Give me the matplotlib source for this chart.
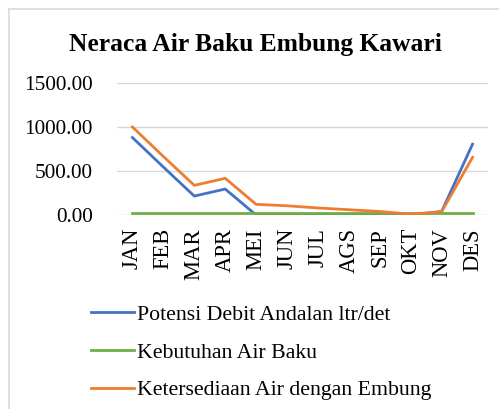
import matplotlib.pyplot as plt
import numpy as np

months = ['JAN', 'FEB', 'MAR', 'APR', 'MEI', 'JUN', 'JUL', 'AGS', 'SEP', 'OKT', 'NOV', 'DES']
potensi = [880, 545, 215, 295, 0, 0, 0, 0, 0, 0, 40, 805]
kebutuhan = [20, 20, 20, 20, 20, 20, 20, 20, 20, 20, 20, 20]
ketersediaan = [1000, 665, 337, 417, 121, 105, 80, 60, 40, 10, 37, 655]
labels = ['Potensi Debit Andalan ltr/det', 'Kebutuhan Air Baku', 'Ketersediaan Air dengan Embung']
colors = ['#4472C4', '#70AD47', '#ED7D31']

plt.rcParams['font.family'] = ['Liberation Serif', 'DejaVu Serif']

fig = plt.figure(figsize=(4.99, 4.09), dpi=100)
W, H = 499, 409

# chart area border (only left and top visible)
fig.add_artist(plt.Line2D([8.5 / W, 8.5 / W], [0, 1 - 8.5 / H], color='#D9D9D9', lw=1.2))
fig.add_artist(plt.Line2D([8.5 / W, 1], [1 - 8.5 / H, 1 - 8.5 / H], color='#D9D9D9', lw=1.2))

ax = fig.add_axes([117 / W, 1 - 215 / H, (488 - 117) / W, (215 - 83) / H])
x = np.arange(len(months))
ax.plot(x, potensi, color=colors[0], lw=2.0, label=labels[0])
ax.plot(x, kebutuhan, color=colors[1], lw=2.0, label=labels[1])
ax.plot(x, ketersediaan, color=colors[2], lw=2.0, label=labels[2])

ax.set_xlim(-0.5, 11.5)
ax.set_ylim(0, 1500)
ax.set_yticks([0, 500, 1000, 1500])
ax.set_yticklabels(['0.00', '500.00', '1000.00', '1500.00'], fontsize=15.3)
ax.set_xticks(x)
ax.set_xticklabels(months, rotation=90, fontsize=16.3)
ax.tick_params(length=0)
ax.tick_params(axis='x', pad=9.4)
ax.tick_params(axis='y', pad=17.3)
ax.grid(axis='y', color='#D9D9D9', lw=1)
ax.set_axisbelow(True)
for s in ax.spines.values():
    s.set_visible(False)

fig.text(255 / W, 1 - 51 / H, 'Neraca Air Baku Embung Kawari', ha='center', va='baseline',
         fontsize=18.4, fontweight='bold')

fig.legend(loc='upper left', bbox_to_anchor=(71 / W, 1 - 285 / H), frameon=False,
           fontsize=15.7, handlelength=2.0, handletextpad=0.14, labelspacing=0.8)

fig.savefig('out.png', dpi=100)
